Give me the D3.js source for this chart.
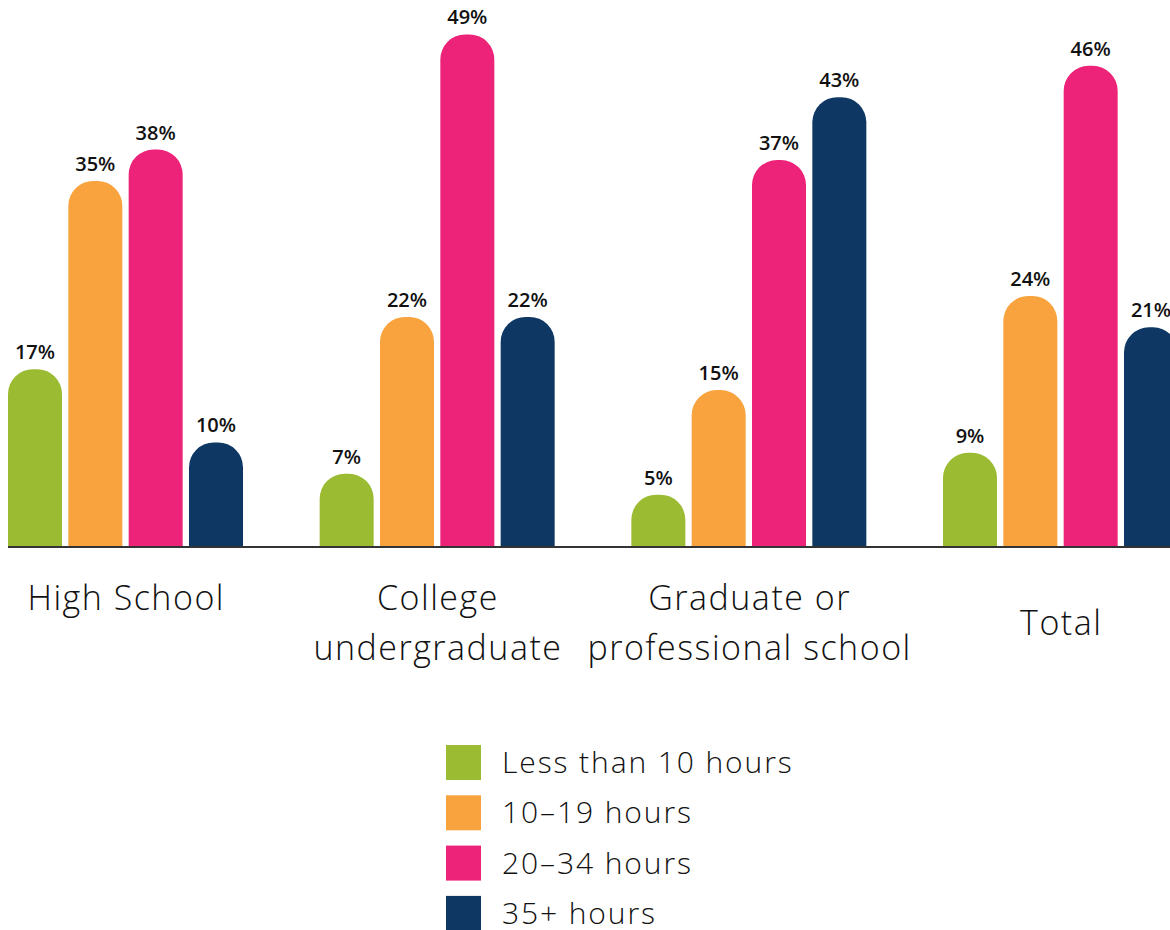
<!DOCTYPE html>
<html>
<head>
<meta charset="utf-8">
<script src="https://cdn.jsdelivr.net/npm/d3@7"></script>
<style>
  html, body { margin: 0; padding: 0; background: #fff; }
  svg { display: block; font-family: "Open Sans", Lato, sans-serif; }
</style>
</head>
<body>
<svg id="chart" width="1170" height="930"></svg>
<script>
const categories = [["High School"], ["College", "undergraduate"], ["Graduate or", "professional school"], ["Total"]];
const seriesNames = ["Less than 10 hours", "10\u201319 hours", "20\u201334 hours", "35+ hours"];
const lessThan10 = [17, 7, 5, 9];
const h10to19 = [35, 22, 15, 24];
const h20to34 = [38, 49, 37, 46];
const h35plus = [10, 22, 43, 21];
const colors = ["#9bbb32", "#f8a33d", "#ed2279", "#0f3764"];

const seriesValues = [lessThan10, h10to19, h20to34, h35plus];
const svg = d3.select("#chart");

const x0 = d3.scaleBand().domain(d3.range(categories.length)).range([8, 1178]).paddingInner(0.246).paddingOuter(0);
const x1 = d3.scaleBand().domain(d3.range(seriesNames.length)).range([0, x0.bandwidth()]).paddingInner(0.105).paddingOuter(0);
const y = d3.scaleLinear().domain([0, 50]).range([547, 24]);

function topRounded(x, yTop, w, yBase, r) {
  r = Math.min(r, w / 2, yBase - yTop);
  return `M${x},${yBase}V${yTop + r}A${r},${r} 0 0 1 ${x + r},${yTop}H${x + w - r}A${r},${r} 0 0 1 ${x + w},${yTop + r}V${yBase}Z`;
}

const groups = svg.selectAll("g.grp").data(categories).join("g")
  .attr("class", "grp")
  .attr("transform", (d, i) => `translate(${x0(i)},0)`);

groups.each(function(cat, ci) {
  const g = d3.select(this);
  seriesValues.forEach((vals, si) => {
    const v = vals[ci];
    g.append("path")
      .attr("d", topRounded(x1(si), y(v), x1.bandwidth(), y(0), 25))
      .attr("fill", colors[si]);
    g.append("text")
      .attr("x", x1(si) + x1.bandwidth() / 2)
      .attr("y", y(v) - 10)
      .attr("text-anchor", "middle")
      .attr("font-size", 20)
      .attr("font-weight", 600)
      .attr("fill", "#111")
      .text(v + "%");
  });
  const cx = x0.bandwidth() / 2;
  const lh = 50;
  const base = cat.length === 1 ? (ci === 0 ? 610 : 635) : 610;
  cat.forEach((line, li) => {
    g.append("text")
      .attr("x", cx + 0.75)
      .attr("y", base + li * lh)
      .attr("text-anchor", "middle")
      .attr("font-size", 34)
      .attr("font-weight", 300)
      .attr("letter-spacing", 1.5)
      .attr("fill", "#111")
      .text(line);
  });
});

svg.append("line")
  .attr("x1", 8).attr("x2", 1170)
  .attr("y1", y(0)).attr("y2", y(0))
  .attr("stroke", "#333").attr("stroke-width", 2);

const legend = svg.append("g");
seriesNames.forEach((name, i) => {
  legend.append("rect")
    .attr("x", 446).attr("y", 745 + i * 50.3)
    .attr("width", 35).attr("height", 35)
    .attr("fill", colors[i]);
  legend.append("text")
    .attr("x", 502).attr("y", 745 + i * 50.3 + 28)
    .attr("font-size", 30)
    .attr("font-weight", 300)
    .attr("letter-spacing", 1.9)
    .attr("fill", "#111")
    .text(name);
});
</script>
</body>
</html>
